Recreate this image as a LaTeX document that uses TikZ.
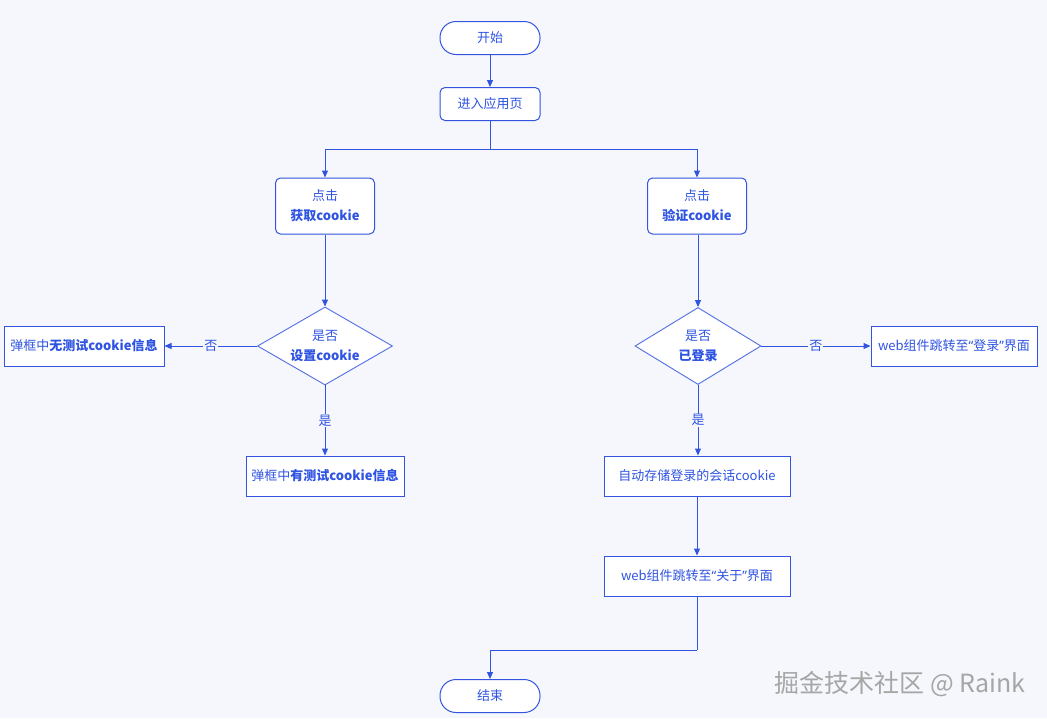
\documentclass[tikz,border=0pt]{standalone}
\usepackage{fontspec}
\setmainfont{Noto Sans CJK SC}
\newfontfamily\quotefont{Noto Sans}
\newcommand{\cnq}[1]{{\quotefont “}#1{\quotefont ”}}
\usetikzlibrary{shapes.geometric, arrows.meta}
\definecolor{flowblue}{RGB}{47,84,225}
\definecolor{flowline}{RGB}{50,84,222}
\definecolor{bgpaper}{RGB}{245,247,252}

\begin{document}
\begin{tikzpicture}[x=1pt, y=-1pt,
    font=\fontsize{13}{20}\selectfont,
    every node/.style={text=flowblue},
    terminal/.style={draw=flowline, fill=white, line width=1pt, rounded corners=16pt, minimum width=100pt, minimum height=33pt},
    process/.style={draw=flowline, fill=white, line width=1pt, rounded corners=5pt, minimum width=100pt, minimum height=33pt, align=center},
    plainbox/.style={draw=flowline, fill=white, line width=1pt, minimum height=40pt, inner xsep=4pt},
    decision/.style={diamond, draw=flowline!85, fill=white, line width=0.9pt, aspect=1.73, minimum width=135pt, minimum height=78pt, inner sep=0pt, align=center},
    flow/.style={draw=flowline, line width=1pt, -{Triangle[length=7pt, width=6pt]}},
    link/.style={draw=flowline, line width=1pt},
    answer/.style={fill=bgpaper, inner sep=1pt}
]
        \fill [bgpaper] (0,0) rectangle (1047,718);

        \node [terminal] (start) at (490,38) {开始};
        \node [process] (enter) at (490,104) {进入应用页};
        \node [process, minimum width=99pt, minimum height=56pt] (getck) at (325,206) {点击\\\textbf{获取cookie}};
        \node [process, minimum width=99pt, minimum height=56pt] (verck) at (697,206) {点击\\\textbf{验证cookie}};
        \node [decision] (setq) at (325,346) {是否\\\textbf{设置cookie}};
        \node [decision, minimum width=126pt, minimum height=77pt] (loginq) at (698,346) {是否\\\textbf{已登录}};
        \node [plainbox, minimum width=160pt] (nobox) at (84,346) {弹框中\textbf{无测试cookie信息}};
        \node [plainbox, minimum width=166pt] (tologin) at (954,346) {web组件跳转至\cnq{登录}界面};
        \node [plainbox, minimum width=158pt] (hasbox) at (325,476) {弹框中\textbf{有测试cookie信息}};
        \node [plainbox, minimum width=186pt] (store) at (697,476) {自动存储登录的会话cookie};
        \node [plainbox, minimum width=186pt] (toabout) at (697,576) {web组件跳转至\cnq{关于}界面};
        \node [terminal] (finish) at (490,696) {结束};

        \coordinate (split) at (490,149);
        \coordinate (merge) at (697,650);

        \draw [flow] (start) -- (enter);
        \draw [link] (enter) -- (split);
        \draw [flow] (split) -| (getck);
        \draw [flow] (split) -| (verck);
        \draw [flow] (getck) -- (setq);
        \draw [flow] (setq.west) -- node [answer] {否} (nobox.east);
        \draw [flow] (setq.south) -- node [answer] {是} (hasbox.north);
        \draw [flow] (verck.south -| loginq.north) -- (loginq.north);
        \draw [flow] (loginq.east) -- node [answer] {否} (tologin.west);
        \draw [flow] (loginq.south) -- node [answer] {是} (store.north -| loginq.south);
        \draw [flow] (store) -- (toabout);
        \draw [link] (toabout) -- (merge);
        \draw [flow] (merge) -| (finish);

        \node [text=black!35, font=\fontsize{25}{28}\selectfont] (mark) at (900,684) {掘金技术社区 @ Raink};
\end{tikzpicture}
\end{document}
